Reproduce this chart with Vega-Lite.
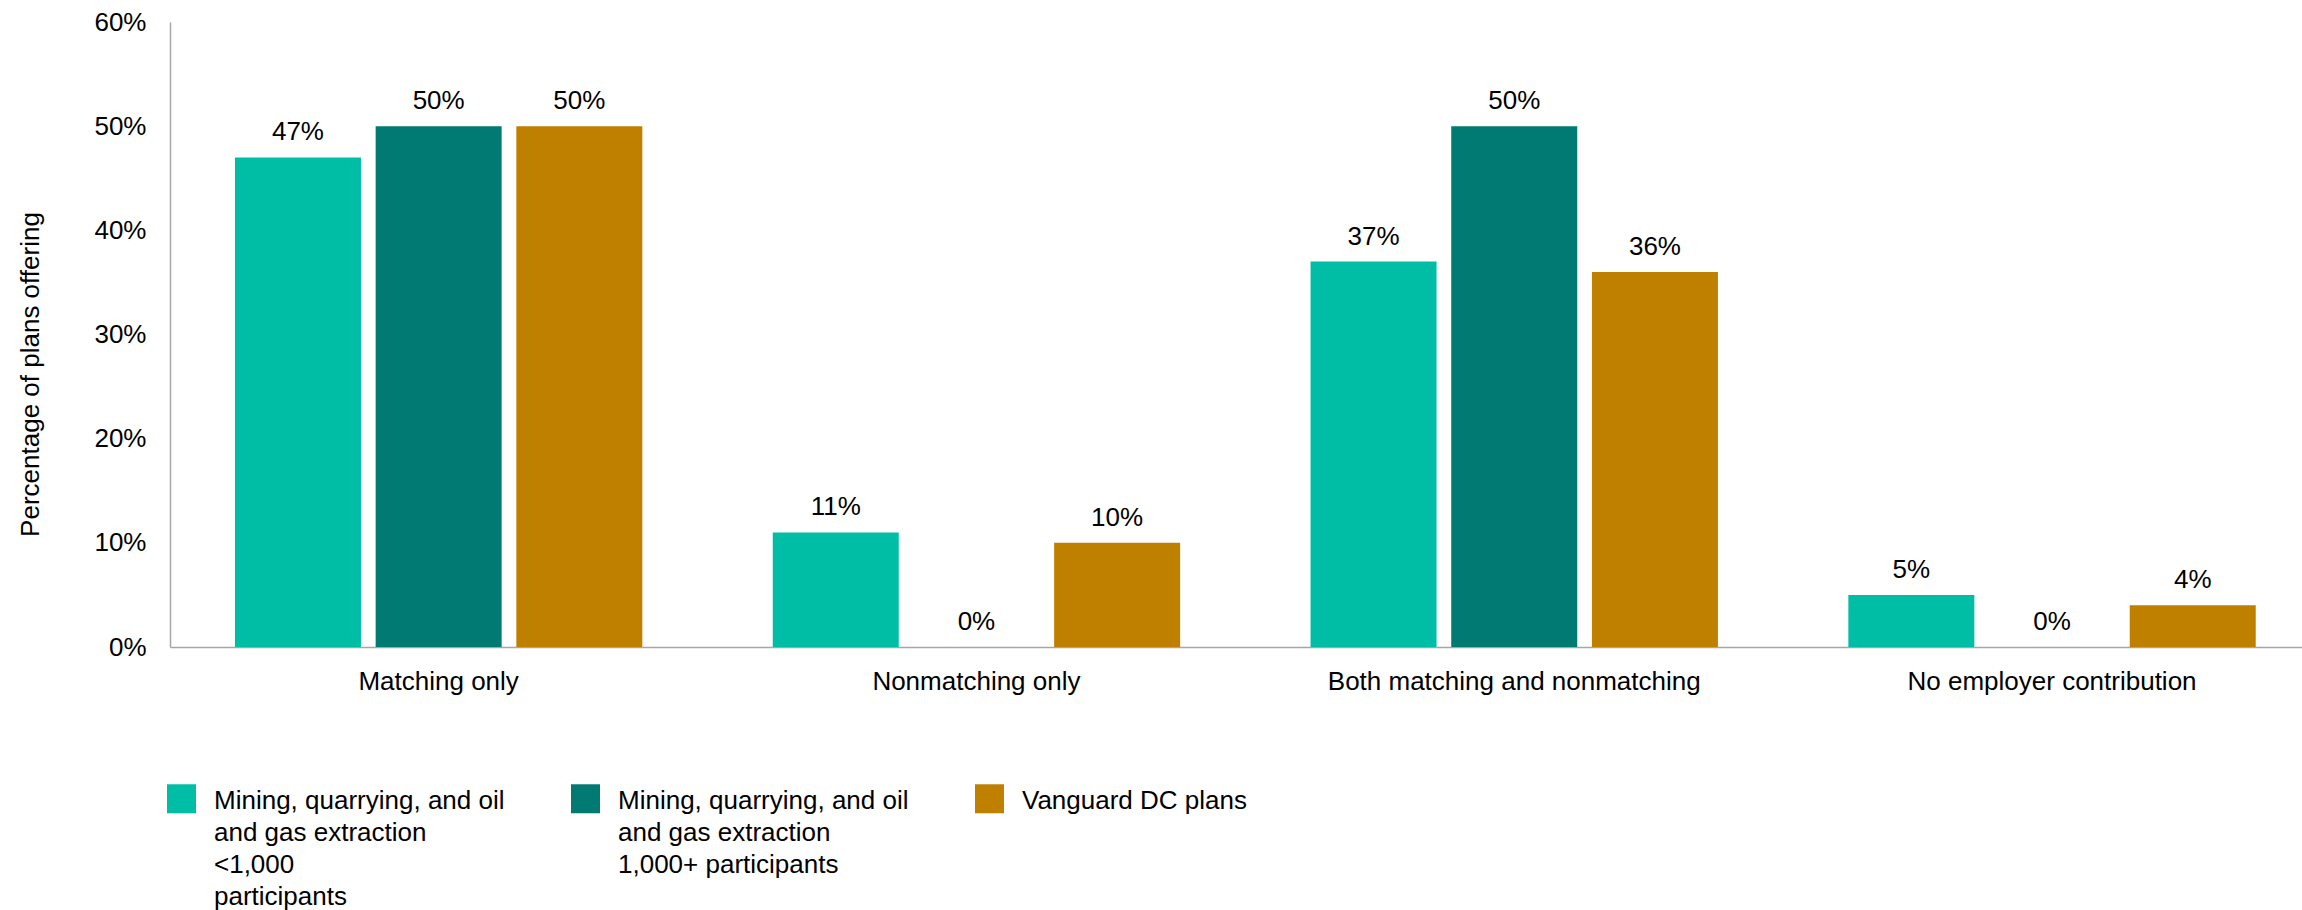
{
  "$schema": "https://vega.github.io/schema/vega-lite/v6.json",
  "width": 2132,
  "height": 625,
  "autosize": "none",
  "padding": {"left": 170, "top": 22, "right": 0, "bottom": 263},
  "background": "white",
  "data": {
    "values": [
      {"category": "Matching only", "group": "Mining, quarrying, and oil|and gas extraction|<1,000|participants", "value": 47},
      {"category": "Matching only", "group": "Mining, quarrying, and oil|and gas extraction|1,000+ participants", "value": 50},
      {"category": "Matching only", "group": "Vanguard DC plans", "value": 50},
      {"category": "Nonmatching only", "group": "Mining, quarrying, and oil|and gas extraction|<1,000|participants", "value": 11},
      {"category": "Nonmatching only", "group": "Mining, quarrying, and oil|and gas extraction|1,000+ participants", "value": 0},
      {"category": "Nonmatching only", "group": "Vanguard DC plans", "value": 10},
      {"category": "Both matching and nonmatching", "group": "Mining, quarrying, and oil|and gas extraction|<1,000|participants", "value": 37},
      {"category": "Both matching and nonmatching", "group": "Mining, quarrying, and oil|and gas extraction|1,000+ participants", "value": 50},
      {"category": "Both matching and nonmatching", "group": "Vanguard DC plans", "value": 36},
      {"category": "No employer contribution", "group": "Mining, quarrying, and oil|and gas extraction|<1,000|participants", "value": 5},
      {"category": "No employer contribution", "group": "Mining, quarrying, and oil|and gas extraction|1,000+ participants", "value": 0},
      {"category": "No employer contribution", "group": "Vanguard DC plans", "value": 4}
    ]
  },
  "encoding": {
    "x": {
      "field": "category",
      "type": "nominal",
      "sort": ["Matching only", "Nonmatching only", "Both matching and nonmatching", "No employer contribution"],
      "scale": {"paddingInner": 0.2425, "paddingOuter": 0.1034, "align": 0.584},
      "axis": {
        "title": null,
        "labelAngle": 0,
        "labelFont": "Liberation Sans",
        "labelFontSize": 26,
        "labelColor": "#000000",
        "labelPadding": 21,
        "labelLimit": 1000,
        "ticks": false,
        "domainColor": "#A6A6A6",
        "domainWidth": 1.5
      }
    },
    "xOffset": {
      "field": "group",
      "type": "nominal",
      "sort": ["Mining, quarrying, and oil|and gas extraction|<1,000|participants", "Mining, quarrying, and oil|and gas extraction|1,000+ participants", "Vanguard DC plans"],
      "scale": {"paddingInner": 0.1045, "paddingOuter": 0}
    },
    "y": {
      "field": "value",
      "type": "quantitative",
      "scale": {"domain": [0, 60]},
      "axis": {
        "title": "Percentage of plans offering",
        "titleFont": "Liberation Sans",
        "titleFontSize": 26,
        "titleFontWeight": "normal",
        "titleColor": "#000000",
        "titlePadding": 50,
        "titleY": 352,
        "values": [0, 10, 20, 30, 40, 50, 60],
        "labelExpr": "datum.value + '%'",
        "labelFont": "Liberation Sans",
        "labelFontSize": 26,
        "labelColor": "#000000",
        "labelPadding": 24,
        "ticks": false,
        "grid": false,
        "domainColor": "#A6A6A6",
        "domainWidth": 1.5
      }
    }
  },
  "layer": [
    {
      "mark": {"type": "bar"},
      "encoding": {
        "color": {
          "field": "group",
          "type": "nominal",
          "sort": ["Mining, quarrying, and oil|and gas extraction|<1,000|participants", "Mining, quarrying, and oil|and gas extraction|1,000+ participants", "Vanguard DC plans"],
          "scale": {
            "domain": ["Mining, quarrying, and oil|and gas extraction|<1,000|participants", "Mining, quarrying, and oil|and gas extraction|1,000+ participants", "Vanguard DC plans"],
            "range": ["#00BDA5", "#007A72", "#BF8000"]
          },
          "legend": {
            "title": null,
            "orient": "none",
            "legendX": -3,
            "legendY": 751,
            "direction": "horizontal",
            "columns": 3,
            "columnPadding": 66,
            "symbolType": "M-1,-0.24L1,-0.24L1,1.76L-1,1.76Z",
            "symbolSize": 841,
            "symbolStrokeWidth": 0,
            "labelFont": "Liberation Sans",
            "labelFontSize": 26,
            "labelColor": "#000000",
            "labelOffset": 18,
            "labelLimit": 500,
            "labelBaseline": "top",
            "labelExpr": "split(datum.label + slice('| | | ', 0, 2 * (4 - length(split(datum.label, '|')))), '|')"
          }
        }
      }
    },
    {
      "mark": {"type": "text", "baseline": "middle", "dy": -25, "font": "Liberation Sans", "fontSize": 26, "color": "#000000", "text": {"expr": "datum.value + '%'"}},
      "encoding": {
        "detail": {"field": "group"}
      }
    }
  ],
  "config": {
    "view": {"stroke": null},
    "style": {"guide-label": {"lineHeight": 32}}
  }
}
